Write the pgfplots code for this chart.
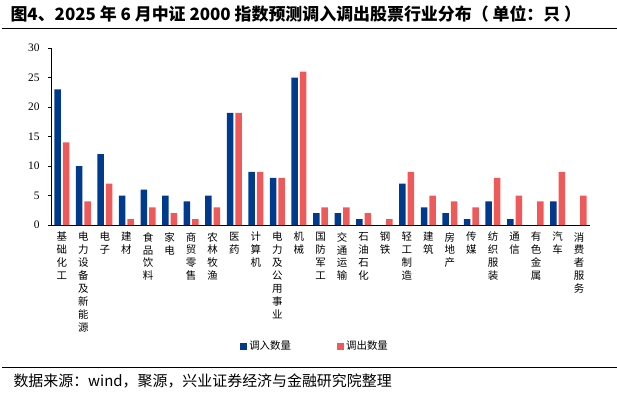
\documentclass[border=0pt]{standalone}
\usepackage{fontspec}
\setmainfont{Noto Sans CJK SC}
\newfontfamily\tnr{Liberation Serif}
\usepackage{pgfplots}
\pgfplotsset{compat=1.18}
\definecolor{cin}{RGB}{0,58,140}
\definecolor{cout}{RGB}{238,90,90}
\begin{document}
\begin{tikzpicture}
\path[use as bounding box] (0bp,0bp) rectangle (617bp,-394bp);
\node[anchor=west,font=\fontsize{17}{19}\selectfont\bfseries] at (7bp,-14bp) {图4、2025 年 6 月中证 2000 指数预测调入调出股票行业分布（ 单位：只 ）};
\draw[line width=0.9bp] (2bp,-28bp) -- (617bp,-28bp);
\draw[line width=0.9bp] (2bp,-367bp) -- (617bp,-367bp);
\node[anchor=west,font=\fontsize{15}{17}\selectfont] at (10bp,-381bp) {数据来源：wind，聚源，兴业证券经济与金融研究院整理};
\begin{axis}[
  at={(51bp,-225bp)}, anchor=south west,
  scale only axis, width=539bp, height=177bp,
  xmin=-0.5, xmax=24.5, ymin=0, ymax=30,
  axis lines=left, axis line style={-, line width=0.8bp},
  ybar, bar width=6.5bp, bar shift auto,
  xtick={0,...,24},
  xticklabels={{基\\础\\化\\工},{电\\力\\设\\备\\及\\新\\能\\源},{电\\子},{建\\材},{食\\品\\饮\\料},{家\\电},{商\\贸\\零\\售},{农\\林\\牧\\渔},{医\\药},{计\\算\\机},{电\\力\\及\\公\\用\\事\\业},{机\\械},{国\\防\\军\\工},{交\\通\\运\\输},{石\\油\\石\\化},{钢\\铁},{轻\\工\\制\\造},{建\\筑},{房\\地\\产},{传\\媒},{纺\\织\\服\\装},{通\\信},{有\\色\\金\\属},{汽\\车},{消\\费\\者\\服\\务}},
  xticklabel style={align=center, font=\fontsize{10.5}{13}\selectfont, anchor=north, inner sep=1bp, yshift=-3bp},
  x tick style={draw=none},
  ytick={0,5,...,30},
  yticklabel style={font=\tnr\fontsize{11.5}{13}\selectfont, xshift=-5bp},
  y tick style={black, line width=0.6bp}, tick align=outside, major tick length=3bp,
  /pgf/number format/assume math mode=true,
  legend style={at={(0.49,-0.685)}, anchor=center, draw=none, legend columns=2, font=\fontsize{10.5}{12}\selectfont, /tikz/every even column/.append style={column sep=44bp}},
  legend image code/.code={\fill[#1] (0bp,-3.5bp) rectangle (7bp,3.5bp);},
  clip=false
]
\addplot[fill=cin, draw=none] coordinates {(0,23)(1,10)(2,12)(3,5)(4,6)(5,5)(6,4)(7,5)(8,19)(9,9)(10,8)(11,25)(12,2)(13,2)(14,1)(15,0)(16,7)(17,3)(18,2)(19,1)(20,4)(21,1)(22,0)(23,4)(24,0)};
\addplot[fill=cout, draw=none] coordinates {(0,14)(1,4)(2,7)(3,1)(4,3)(5,2)(6,1)(7,3)(8,19)(9,9)(10,8)(11,26)(12,3)(13,3)(14,2)(15,1)(16,9)(17,5)(18,4)(19,3)(20,8)(21,5)(22,4)(23,9)(24,5)};
\legend{调入数量,调出数量}
\end{axis}
\end{tikzpicture}
\end{document}
